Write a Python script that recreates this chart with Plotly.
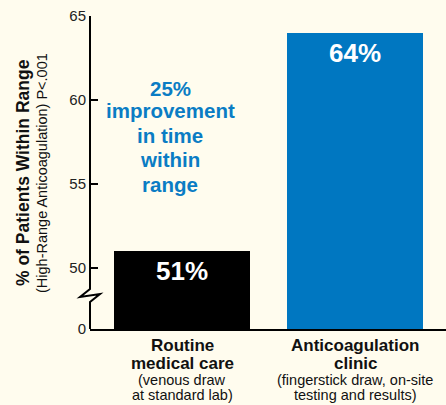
import plotly.graph_objects as go

categories = ["Routine medical care", "Anticoagulation clinic"]
values = [51, 64]
value_labels = ["51%", "64%"]
bar_colors = ["#000000", "#0077C1"]
cat_title_lines = [["Routine", "medical care"], ["Anticoagulation", "clinic"]]
cat_sub_lines = [["(venous draw", "at standard lab)"], ["(fingerstick draw, on-site", "testing and results)"]]
tick_values = [46.37, 50, 55, 60, 65]
tick_labels = ["0", "50", "55", "60", "65"]
callout_lines = ["25%", "improvement", "in time", "within", "range"]
y_title = "% of Patients Within Range"
y_subtitle = "(High-Range Anticoagulation) P<.001"

BG = "#FFFCEE"
BLUE = "#0A7CC4"
FONT = "Liberation Sans, Arial, sans-serif"

W, H = 446, 405
L, R, T, B = 90, 0, 16, 76
pw, ph = W - L - R, H - T - B

def px_x(p):
    return (p - L) / pw

def px_y(p):
    return (H - B - p) / ph

xpos = list(range(len(categories)))

fig = go.Figure()
fig.add_trace(go.Bar(
    x=xpos, y=values, marker=dict(color=bar_colors, line=dict(width=0)),
    width=0.786, hoverinfo="skip", showlegend=False,
))

ann = []
for i, (v, lab) in enumerate(zip(values, value_labels)):
    ann.append(dict(x=xpos[i], y=v, xref="x", yref="y", text=f"<b>{lab}</b>",
                    showarrow=False, yanchor="top", xanchor="center", yshift=-3,
                    font=dict(family=FONT, size=26, color="white")))

# category labels below axis
for i in range(len(categories)):
    ys = [345, 363]
    for j, line in enumerate(cat_title_lines[i]):
        ann.append(dict(x=xpos[i], y=px_y(ys[j]), xref="x", yref="paper",
                        text=f"<b>{line}</b>", showarrow=False, yanchor="middle",
                        xanchor="center",
                        font=dict(family=FONT, size=17, color="#111")))
    ys2 = [380, 395]
    for j, line in enumerate(cat_sub_lines[i]):
        ann.append(dict(x=xpos[i], y=px_y(ys2[j]), xref="x", yref="paper",
                        text=line, showarrow=False, yanchor="middle",
                        xanchor="center",
                        font=dict(family=FONT, size=14.5, color="#111")))

# callout
cy = [88, 111, 135, 159, 184]
for line, yy in zip(callout_lines, cy):
    ann.append(dict(x=px_x(170), y=px_y(yy), xref="paper", yref="paper",
                    text=f"<b>{line}</b>", showarrow=False, yanchor="middle",
                    xanchor="center",
                    font=dict(family=FONT, size=20.5, color=BLUE)))

# y titles
ann.append(dict(x=px_x(23), y=px_y(173), xref="paper", yref="paper",
                text=f"<b>{y_title}</b>", showarrow=False, textangle=-90,
                xanchor="center", yanchor="middle",
                font=dict(family=FONT, size=17.5, color="#111")))
ann.append(dict(x=px_x(42), y=px_y(173), xref="paper", yref="paper",
                text=y_subtitle, showarrow=False, textangle=-90,
                xanchor="center", yanchor="middle",
                font=dict(family=FONT, size=14.5, color="#111")))

# axis line with break
pts = [(90, 16), (90, 289), (80, 297), (100, 294), (90, 302), (90, 329)]
path = "M " + " L ".join(f"{px_x(a):.5f},{px_y(b):.5f}" for a, b in pts)
shapes = [dict(type="path", xref="paper", yref="paper", path=path,
               line=dict(color="black", width=2))]

fig.update_layout(
    width=W, height=H, margin=dict(l=L, r=R, t=T, b=B),
    paper_bgcolor=BG, plot_bgcolor=BG,
    annotations=ann, shapes=shapes, bargap=0,
    xaxis=dict(range=[-0.532, 1.526], showticklabels=False, ticks="",
               showgrid=False, zeroline=False, showline=True,
               linecolor="black", linewidth=2, fixedrange=True),
    yaxis=dict(range=[46.37, 65], tickvals=tick_values, ticktext=tick_labels,
               ticks="inside", ticklen=8, tickwidth=1.5, tickcolor="black",
               showgrid=False, zeroline=False, showline=False,
               tickfont=dict(family=FONT, size=15, color="#222"),
               ticklabelstandoff=3, fixedrange=True),
)

fig.write_html("out.html", config={"displayModeBar": False},
               post_script="document.body.style.margin='0';document.body.style.background='%s';" % BG)
